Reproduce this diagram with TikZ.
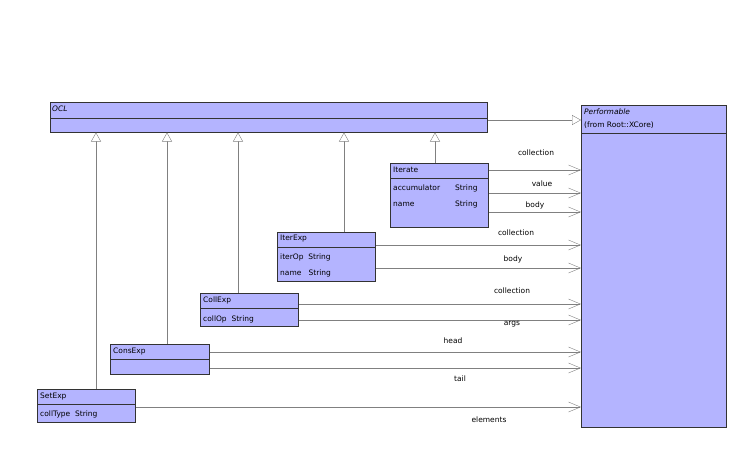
\documentclass[tikz,border=0pt]{standalone}
\usepackage{fontspec}
\setmainfont{DejaVu Sans}
\usetikzlibrary{arrows.meta}
\definecolor{cls}{HTML}{B4B4FF}
\definecolor{ln}{HTML}{808080}
\begin{document}
\begin{tikzpicture}[x=1pt,y=-1pt,
  box/.style={draw=black!80,fill=cls,line width=0.8pt},
  dv/.style={draw=black!80,line width=0.6pt},
  txt/.style={font=\fontsize{7.5}{8}\selectfont,anchor=west,inner sep=0pt},
  lab/.style={font=\fontsize{7.5}{8}\selectfont,inner sep=0pt},
  gen/.style={draw=ln,-{Triangle[open,length=9pt,width=10pt,fill=white]}},
  asc/.style={draw=ln,-{Straight Barb[length=12pt,width=10pt]}}]
\useasboundingbox (0,0) rectangle (747,448);
% boxes
\node[box,minimum width=437pt,minimum height=30pt,inner sep=0pt,anchor=north west] (ocl) at (50,102) {};
\draw[dv] (50,118) -- (487,118);
\node[txt,font=\fontsize{7.5}{8}\selectfont\itshape] (ocln) at (52,109) {OCL};
\node[box,minimum width=145pt,minimum height=322pt,inner sep=0pt,anchor=north west] (perf) at (581,105) {};
\draw[dv] (581,133) -- (726,133);
\node[txt,font=\fontsize{7.5}{8}\selectfont\itshape] (pn) at (584,112) {Performable};
\node[txt] (pf) at (584,125) {(from Root::XCore)};
\node[box,minimum width=98pt,minimum height=64pt,inner sep=0pt,anchor=north west] (it) at (390,163) {};
\draw[dv] (390,178) -- (488,178);
\node[txt] (itn) at (393,170) {Iterate};
\node[txt] (ita1) at (393,188) {accumulator};
\node[txt] (ita2) at (393,204) {name};
\node[txt] (itt1) at (455,188) {String};
\node[txt] (itt2) at (455,204) {String};
\node[box,minimum width=98pt,minimum height=49pt,inner sep=0pt,anchor=north west] (ie) at (277,232) {};
\draw[dv] (277,247) -- (375,247);
\node[txt] (ien) at (280,239) {IterExp};
\node[txt] (iea) at (280,257) {iterOp\ \ String};
\node[txt] (ieb) at (280,273) {name\ \ \ String};
\node[box,minimum width=98pt,minimum height=33pt,inner sep=0pt,anchor=north west] (ce) at (200,293) {};
\draw[dv] (200,308) -- (298,308);
\node[txt] (cen) at (203,300) {CollExp};
\node[txt] (cea) at (203,319) {collOp\ \ String};
\node[box,minimum width=99pt,minimum height=30pt,inner sep=0pt,anchor=north west] (co) at (110,344) {};
\draw[dv] (110,359) -- (209,359);
\node[txt] (con) at (113,351) {ConsExp};
\node[box,minimum width=98pt,minimum height=33pt,inner sep=0pt,anchor=north west] (se) at (37,389) {};
\draw[dv] (37,404) -- (135,404);
\node[txt] (sen) at (40,396) {SetExp};
\node[txt] (sea) at (40,414) {collType\ \ String};
% generalisations
\draw[gen] (se.north -| 96,0) -- (96,132.5);
\draw[gen] (co.north -| 167,0) -- (167,132.5);
\draw[gen] (ce.north -| 238,0) -- (238,132.5);
\draw[gen] (ie.north -| 344,0) -- (344,132.5);
\draw[gen] (it.north -| 435,0) -- (435,132.5);
\draw[gen] (ocl.east |- 0,120) -- (perf.west |- 0,120);
% associations
\foreach \y/\l/\lx/\ly in {170/collection/536/153,193/value/542/184,212/body/535/205}{
  \draw[asc] (it.east |- 0,\y) -- (perf.west |- 0,\y);
  \node[lab] at (\lx,\ly) {\l};}
\foreach \y/\l/\lx/\ly in {245/collection/516/233,268/body/513/259}{
  \draw[asc] (ie.east |- 0,\y) -- (perf.west |- 0,\y);
  \node[lab] at (\lx,\ly) {\l};}
\foreach \y/\l/\lx/\ly in {304/collection/512/291,320/args/512/324}{
  \draw[asc] (ce.east |- 0,\y) -- (perf.west |- 0,\y);
  \node[lab] at (\lx,\ly) {\l};}
\foreach \y/\l/\lx/\ly in {352/head/453/341,368/tail/460/379}{
  \draw[asc] (co.east |- 0,\y) -- (perf.west |- 0,\y);
  \node[lab] at (\lx,\ly) {\l};}
\draw[asc] (se.east |- 0,407) -- (perf.west |- 0,407);
\node[lab] at (489,420) {elements};
\end{tikzpicture}
\end{document}
